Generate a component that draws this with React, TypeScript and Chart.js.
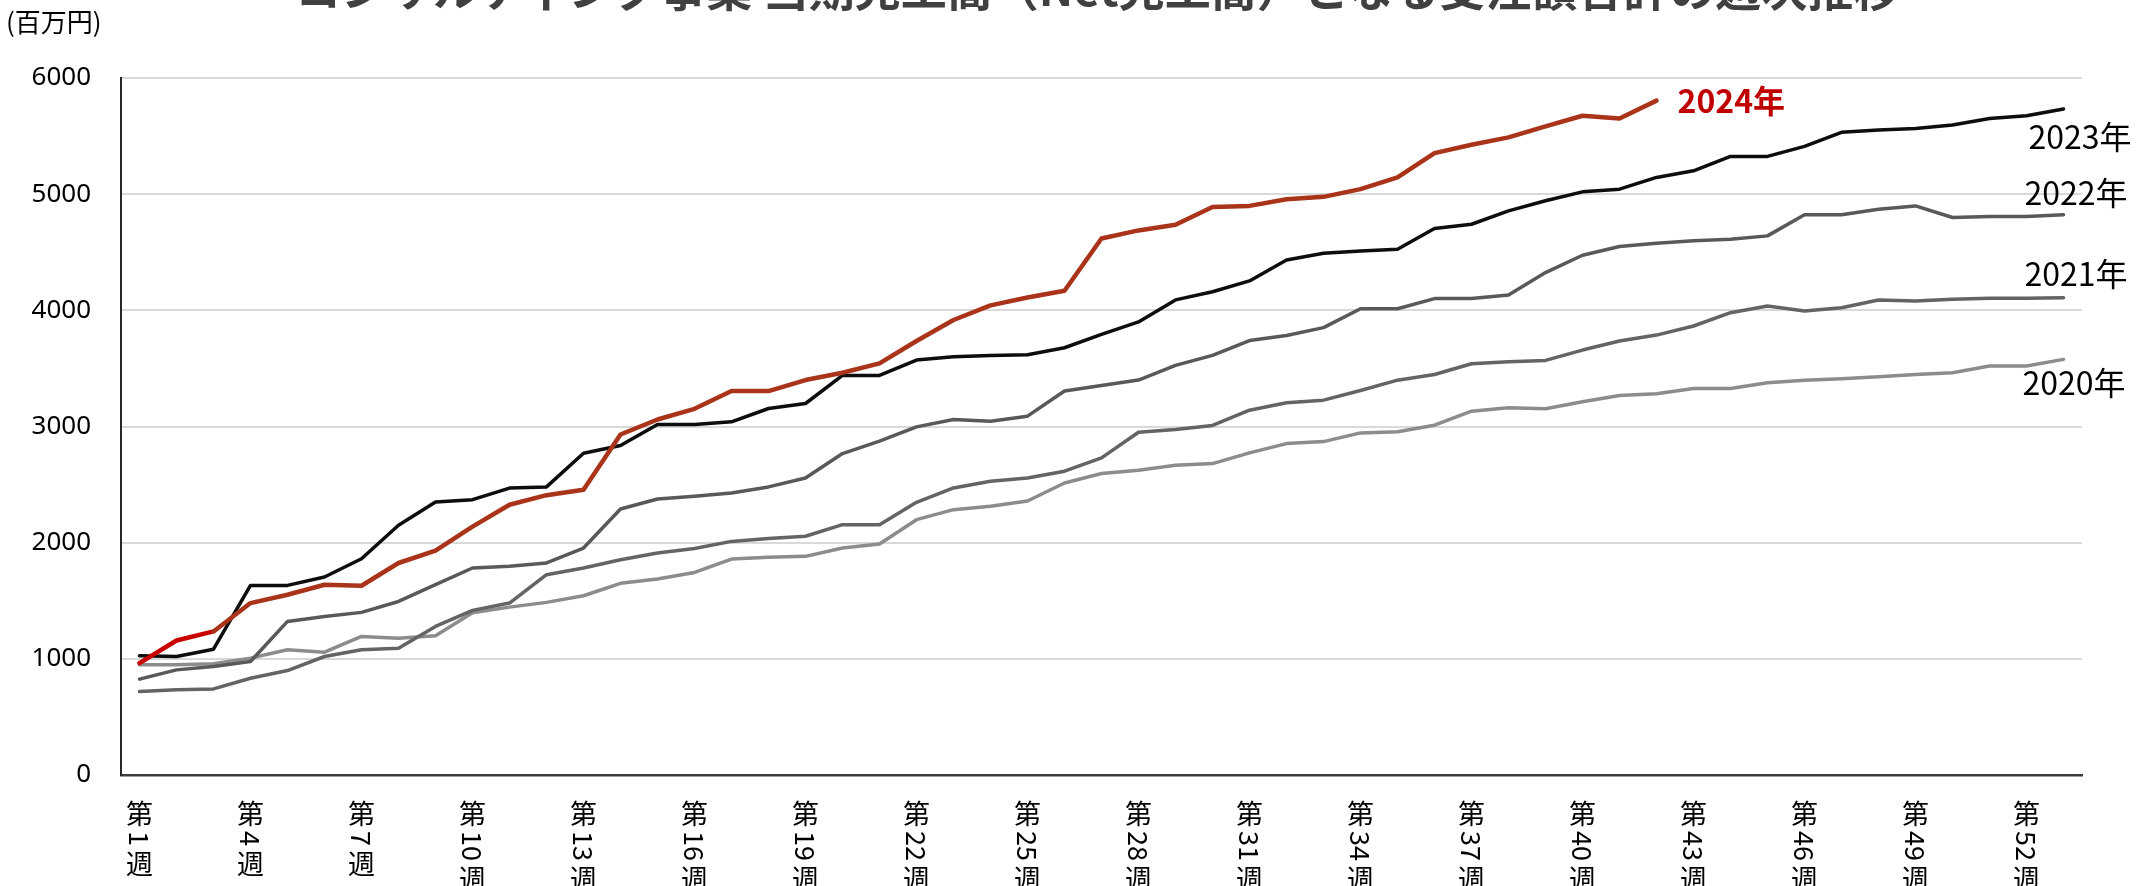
import React, { useEffect, useRef } from "react";
import { Chart, registerables } from "chart.js";

Chart.register(...registerables);

const chartTitle = "コンサルティング事業 当期完工高（Net完工高）となる受注額合計の週次推移";
const unitLabel = "(百万円)";

const weekLabels = [
  "第1週", "第2週", "第3週", "第4週", "第5週", "第6週", "第7週", "第8週", "第9週", "第10週",
  "第11週", "第12週", "第13週", "第14週", "第15週", "第16週", "第17週", "第18週", "第19週", "第20週",
  "第21週", "第22週", "第23週", "第24週", "第25週", "第26週", "第27週", "第28週", "第29週", "第30週",
  "第31週", "第32週", "第33週", "第34週", "第35週", "第36週", "第37週", "第38週", "第39週", "第40週",
  "第41週", "第42週", "第43週", "第44週", "第45週", "第46週", "第47週", "第48週", "第49週", "第50週",
  "第51週", "第52週", "第53週",
];
const shownWeeks = [1, 4, 7, 10, 13, 16, 19, 22, 25, 28, 31, 34, 37, 40, 43, 46, 49, 52];

const yTickValues = [0, 1000, 2000, 3000, 4000, 5000, 6000];

const seriesNames = ["2024年", "2023年", "2022年", "2021年", "2020年"];

const v2024 = [
  963, 1158, 1236, 1480, 1552, 1638, 1629, 1825, 1931, 2138,
  2326, 2409, 2456, 2931, 3060, 3152, 3305, 3305, 3400, 3463,
  3543, 3736, 3917, 4043, 4110, 4169, 4618, 4688, 4736, 4889,
  4899, 4957, 4977, 5043, 5144, 5353, 5425, 5489, 5583, 5675,
  5652, 5805,
];
const v2023 = [
  1026, 1020, 1083, 1632, 1632, 1704, 1862, 2150, 2350, 2370,
  2470, 2480, 2770, 2836, 3017, 3017, 3040, 3155, 3198, 3440,
  3440, 3572, 3601, 3612, 3618, 3678, 3793, 3900, 4090, 4160,
  4253, 4434, 4491, 4511, 4526, 4704, 4741, 4856, 4943, 5020,
  5043, 5144, 5201, 5325, 5325, 5411, 5532, 5552, 5566, 5595,
  5652, 5675, 5733,
];
const v2022 = [
  825, 905, 934, 977, 1322, 1365, 1400, 1494, 1638, 1782,
  1796, 1825, 1954, 2290, 2376, 2399, 2428, 2480, 2557, 2767,
  2874, 2997, 3060, 3046, 3089, 3305, 3353, 3400, 3526, 3612,
  3740, 3784, 3851, 4014, 4014, 4101, 4101, 4132, 4325, 4474,
  4549, 4578, 4598, 4612, 4641, 4822, 4822, 4871, 4899, 4799,
  4807, 4807, 4822,
];
const v2021 = [
  718, 733, 741, 833, 899, 1020, 1078, 1092, 1279, 1417,
  1480, 1724, 1782, 1853, 1911, 1950, 2011, 2035, 2055, 2155,
  2155, 2347, 2471, 2529, 2557, 2615, 2730, 2951, 2974, 3009,
  3140, 3204, 3227, 3310, 3399, 3448, 3540, 3557, 3569, 3658,
  3736, 3787, 3865, 3980, 4037, 3994, 4023, 4089, 4080, 4095,
  4103, 4103, 4109,
];
const v2020 = [
  948, 948, 957, 1006, 1078, 1057, 1193, 1178, 1198, 1397,
  1445, 1486, 1543, 1650, 1687, 1744, 1859, 1874, 1882, 1954,
  1989, 2198, 2284, 2313, 2359, 2514, 2595, 2623, 2666, 2681,
  2773, 2853, 2870, 2945, 2954, 3011, 3132, 3161, 3152, 3213,
  3267, 3282, 3328, 3328, 3376, 3399, 3411, 3428, 3448, 3463,
  3520, 3520, 3578,
];

const JP = '"Noto Sans CJK JP", "Noto Sans", sans-serif';

export default function App() {
  const ref = useRef<HTMLCanvasElement>(null);

  useEffect(() => {
    const canvas = ref.current;
    if (!canvas) return;

    const weekTickPlugin = {
      id: "weekTicks",
      afterDraw(chart: any) {
        const ctx = chart.ctx;
        const xs = chart.scales.x;
        ctx.save();
        ctx.fillStyle = "#000000";
        ctx.font = `27px ${JP}`;
        for (const w of shownWeeks) {
          const idx = weekLabels.indexOf(`第${w}週`);
          const x = xs.getPixelForValue(idx);
          const num = String(w);
          ctx.textAlign = "center";
          ctx.textBaseline = "top";
          ctx.fillText("第", x, 800);
          const dw = ctx.measureText(num).width;
          ctx.save();
          ctx.translate(x, 831);
          ctx.rotate(Math.PI / 2);
          ctx.textAlign = "left";
          ctx.textBaseline = "middle";
          ctx.fillText(num, 0, 0);
          ctx.restore();
          ctx.textAlign = "center";
          ctx.textBaseline = "top";
          ctx.fillText("週", x, 831 + dw + 4);
        }
        ctx.restore();
      },
    };

    const labelStyle = [
      { dx: 21, dy: 0, color: "#C00000", weight: "bold" },
      { dx: -35, dy: 28, color: "#000000", weight: "normal" },
      { dx: -39, dy: -22, color: "#000000", weight: "normal" },
      { dx: -39, dy: -24, color: "#000000", weight: "normal" },
      { dx: -41, dy: 23, color: "#000000", weight: "normal" },
    ];

    const yearLabelPlugin = {
      id: "yearLabels",
      afterDatasetsDraw(chart: any) {
        const ctx = chart.ctx;
        ctx.save();
        chart.data.datasets.forEach((ds: any, i: number) => {
          const meta = chart.getDatasetMeta(i);
          const pts = meta.data;
          const last = pts[pts.length - 1];
          const st = labelStyle[i];
          ctx.font = `${st.weight} 32px ${JP}`;
          ctx.fillStyle = st.color;
          ctx.textAlign = "left";
          ctx.textBaseline = "middle";
          ctx.fillText(ds.label, last.x + st.dx, last.y + st.dy);
        });
        ctx.restore();
      },
    };

    const common = {
      pointRadius: 0,
      pointHoverRadius: 0,
      tension: 0,
      fill: false,
      borderCapStyle: "round",
      borderJoinStyle: "round",
    };

    const chart = new Chart(canvas, {
      type: "line",
      data: {
        labels: weekLabels,
        datasets: [
          {
            ...common,
            label: seriesNames[0],
            data: v2024,
            borderColor: "#A9341A",
            borderWidth: 4.5,
            segment: {
              borderColor: (c: any) => (c.p0DataIndex < 2 ? "#C80000" : "#A9341A"),
            },
          },
          { ...common, label: seriesNames[1], data: v2023, borderColor: "#0D0D0D", borderWidth: 3.5 },
          { ...common, label: seriesNames[2], data: v2022, borderColor: "#595959", borderWidth: 3.5 },
          { ...common, label: seriesNames[3], data: v2021, borderColor: "#646464", borderWidth: 3.5 },
          { ...common, label: seriesNames[4], data: v2020, borderColor: "#8C8C8C", borderWidth: 3.5 },
        ] as any,
      },
      options: {
        animation: false,
        responsive: false,
        devicePixelRatio: 1,
        layout: { padding: { top: 78, right: 70, left: 0, bottom: 0 } },
        plugins: {
          legend: { display: false },
          tooltip: { enabled: false },
          title: { display: false },
        },
        scales: {
          x: {
            type: "category",
            offset: true,
            grid: { display: false, drawTicks: false },
            border: { display: true, color: "#3A3A3A", width: 2.5 },
            ticks: { display: false },
            afterFit: (s: any) => {
              s.height = 111;
            },
          },
          y: {
            min: yTickValues[0],
            max: yTickValues[yTickValues.length - 1],
            afterBuildTicks: (s: any) => {
              s.ticks = yTickValues.map((v) => ({ value: v }));
            },
            ticks: {
              padding: 30,
              color: "#000000",
              font: { family: '"Noto Sans", sans-serif', size: 26 },
              callback: (v: any) => String(v),
            },
            grid: { color: "#D9D9D9", lineWidth: 2, drawTicks: false },
            border: { display: true, color: "#262626", width: 2 },
            afterFit: (s: any) => {
              s.width = 121;
            },
          },
        },
      } as any,
      plugins: [weekTickPlugin, yearLabelPlugin],
    });

    return () => chart.destroy();
  }, []);

  return (
    <div
      style={{
        position: "absolute",
        left: 0,
        top: 0,
        width: 2152,
        height: 886,
        overflow: "hidden",
        background: "#ffffff",
      }}
    >
      <canvas ref={ref} width={2152} height={886} style={{ width: 2152, height: 886, display: "block" }} />
      <div
        style={{
          position: "absolute",
          left: 295,
          top: -37,
          fontFamily: JP,
          fontWeight: 700,
          fontSize: 46,
          lineHeight: "46px",
          color: "#404040",
          whiteSpace: "nowrap",
        }}
      >
        {chartTitle}
      </div>
      <div
        style={{
          position: "absolute",
          left: 6,
          top: 6,
          fontFamily: JP,
          fontSize: 26,
          lineHeight: "30px",
          color: "#000000",
          whiteSpace: "nowrap",
        }}
      >
        {unitLabel}
      </div>
    </div>
  );
}
